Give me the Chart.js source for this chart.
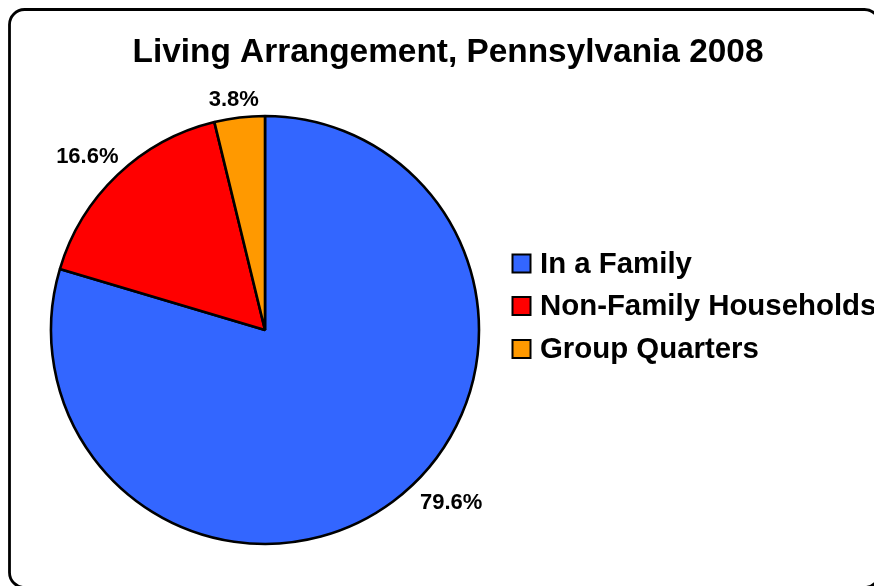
<!DOCTYPE html>
<html>
<head>
<meta charset="utf-8">
<title>Living Arrangement, Pennsylvania 2008</title>
<script src="https://cdn.jsdelivr.net/npm/chart.js@4/dist/chart.umd.min.js"></script>
<style>
    html, body { margin: 0; padding: 0; background: #fff; }
    #wrap { width: 874px; height: 586px; position: relative; }
</style>
</head>
<body>
<div id="wrap"><canvas id="pie" width="874" height="586"></canvas></div>
<script>
// data
const categories = ['In a Family', 'Non-Family Households', 'Group Quarters'];
const shares = [79.6, 16.6, 3.8];
const sliceColors = ['#3366FF', '#FF0000', '#FF9900'];
const chartTitle = 'Living Arrangement, Pennsylvania 2008';

// where each percent label sits: angle shift from the slice middle (deg) and distance from centre
const labelPlacement = [
    { shift: -10.4, dist: 254 },
    { shift: -2.2, dist: 248 },
    { shift: -0.9, dist: 232 }
];

const FONT = 'Arial, "Liberation Sans", Helvetica, sans-serif';

// rounded frame, title, legend and outside labels
const decorations = {
    id: 'decorations',
    beforeDraw(chart) {
        const ctx = chart.ctx;
        ctx.save();
        ctx.fillStyle = '#fff';
        ctx.fillRect(0, 0, chart.width, chart.height);
        ctx.beginPath();
        ctx.roundRect(9.5, 9.5, 870, 578, 15);
        ctx.lineWidth = 2.8;
        ctx.strokeStyle = '#000';
        ctx.stroke();
        ctx.restore();
    },
    afterDraw(chart) {
        const ctx = chart.ctx;
        ctx.save();

        ctx.fillStyle = '#000';
        ctx.font = 'bold 33.4px ' + FONT;
        ctx.textAlign = 'center';
        ctx.textBaseline = 'alphabetic';
        ctx.fillText(chartTitle, 448, 62);

        // percent labels
        const meta = chart.getDatasetMeta(0);
        ctx.font = 'bold 22px ' + FONT;
        ctx.textBaseline = 'middle';
        meta.data.forEach((arc, i) => {
            const p = labelPlacement[i];
            const mid = (arc.startAngle + arc.endAngle) / 2 + p.shift * Math.PI / 180;
            const x = arc.x + Math.cos(mid) * p.dist;
            const y = arc.y + Math.sin(mid) * p.dist;
            ctx.fillText(shares[i].toFixed(1) + '%', x, y);
        });

        // legend
        ctx.font = 'bold 29.4px ' + FONT;
        ctx.textAlign = 'left';
        const rows = [263.5, 306, 349];
        categories.forEach((name, i) => {
            const cy = rows[i];
            ctx.fillStyle = sliceColors[i];
            ctx.fillRect(512.5, cy - 9, 18, 18);
            ctx.lineWidth = 2;
            ctx.strokeStyle = '#000';
            ctx.strokeRect(512.5, cy - 9, 18, 18);
            ctx.fillStyle = '#000';
            ctx.fillText(name, 540, cy + 1);
        });

        ctx.restore();
    }
};

new Chart(document.getElementById('pie'), {
    type: 'pie',
    data: {
        labels: categories,
        datasets: [{
            data: shares,
            backgroundColor: sliceColors,
            borderColor: '#000',
            borderWidth: 2.6
        }]
    },
    options: {
        responsive: false,
        animation: false,
        devicePixelRatio: 1,
        radius: 214,
        layout: { padding: { left: 51, right: 395, top: 116, bottom: 42 } },
        plugins: {
            legend: { display: false },
            title: { display: false },
            tooltip: { enabled: false }
        }
    },
    plugins: [decorations]
});
</script>
</body>
</html>
